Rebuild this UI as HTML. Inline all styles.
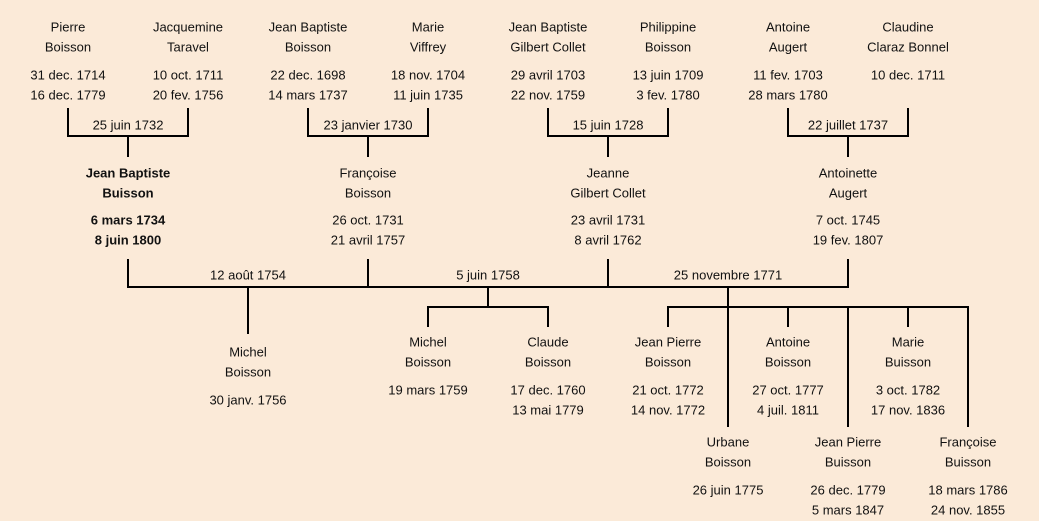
<!DOCTYPE html>
<html><head><meta charset="utf-8"><style>
html,body{margin:0;padding:0;background:#fbead8;}
svg{display:block}
text{font-family:"Liberation Sans","DejaVu Sans",sans-serif;font-size:13px;fill:#111;text-anchor:middle;dominant-baseline:middle}
.b{font-weight:bold}
</style></head><body>
<svg width="1039" height="521" viewBox="0 0 1039 521" xmlns="http://www.w3.org/2000/svg">
<rect width="1039" height="521" fill="#fbead8"/>
<g stroke="#000" stroke-width="2" fill="none">
<path d="M68 108V136H188V108M128 136V157"/>
<path d="M308 108V136H428V108M368 136V157"/>
<path d="M548 108V136H668V108M608 136V157"/>
<path d="M788 108V136H908V108M848 136V157"/>
<path d="M128 259V287H848V259M368 259V287M608 259V287"/>
<path d="M248 287V334"/>
<path d="M488 287V307M428 327V307H548V327"/>
<path d="M728 287V427M668 327V307H968V427M788 307V327M908 307V327M848 307V427"/>
</g>
<text x="68" y="28">Pierre</text><text x="68" y="48">Boisson</text><text x="68" y="76">31 dec. 1714</text><text x="68" y="96">16 dec. 1779</text>
<text x="188" y="28">Jacquemine</text><text x="188" y="48">Taravel</text><text x="188" y="76">10 oct. 1711</text><text x="188" y="96">20 fev. 1756</text>
<text x="308" y="28">Jean Baptiste</text><text x="308" y="48">Boisson</text><text x="308" y="76">22 dec. 1698</text><text x="308" y="96">14 mars 1737</text>
<text x="428" y="28">Marie</text><text x="428" y="48">Viffrey</text><text x="428" y="76">18 nov. 1704</text><text x="428" y="96">11 juin 1735</text>
<text x="548" y="28">Jean Baptiste</text><text x="548" y="48">Gilbert Collet</text><text x="548" y="76">29 avril 1703</text><text x="548" y="96">22 nov. 1759</text>
<text x="668" y="28">Philippine</text><text x="668" y="48">Boisson</text><text x="668" y="76">13 juin 1709</text><text x="668" y="96">3 fev. 1780</text>
<text x="788" y="28">Antoine</text><text x="788" y="48">Augert</text><text x="788" y="76">11 fev. 1703</text><text x="788" y="96">28 mars 1780</text>
<text x="908" y="28">Claudine</text><text x="908" y="48">Claraz Bonnel</text><text x="908" y="76">10 dec. 1711</text>
<text x="128" y="126">25 juin 1732</text>
<text x="368" y="126">23 janvier 1730</text>
<text x="608" y="126">15 juin 1728</text>
<text x="848" y="126">22 juillet 1737</text>
<text class="b" x="128" y="174">Jean Baptiste</text><text class="b" x="128" y="194">Buisson</text><text class="b" x="128" y="221">6 mars 1734</text><text class="b" x="128" y="241">8 juin 1800</text>
<text x="368" y="174">Françoise</text><text x="368" y="194">Boisson</text><text x="368" y="221">26 oct. 1731</text><text x="368" y="241">21 avril 1757</text>
<text x="608" y="174">Jeanne</text><text x="608" y="194">Gilbert Collet</text><text x="608" y="221">23 avril 1731</text><text x="608" y="241">8 avril 1762</text>
<text x="848" y="174">Antoinette</text><text x="848" y="194">Augert</text><text x="848" y="221">7 oct. 1745</text><text x="848" y="241">19 fev. 1807</text>
<text x="248" y="276">12 août 1754</text>
<text x="488" y="276">5 juin 1758</text>
<text x="728" y="276">25 novembre 1771</text>
<text x="248" y="353">Michel</text><text x="248" y="373">Boisson</text><text x="248" y="401">30 janv. 1756</text>
<text x="428" y="343">Michel</text><text x="428" y="363">Boisson</text><text x="428" y="391">19 mars 1759</text>
<text x="548" y="343">Claude</text><text x="548" y="363">Boisson</text><text x="548" y="391">17 dec. 1760</text><text x="548" y="411">13 mai 1779</text>
<text x="668" y="343">Jean Pierre</text><text x="668" y="363">Boisson</text><text x="668" y="391">21 oct. 1772</text><text x="668" y="411">14 nov. 1772</text>
<text x="788" y="343">Antoine</text><text x="788" y="363">Boisson</text><text x="788" y="391">27 oct. 1777</text><text x="788" y="411">4 juil. 1811</text>
<text x="908" y="343">Marie</text><text x="908" y="363">Buisson</text><text x="908" y="391">3 oct. 1782</text><text x="908" y="411">17 nov. 1836</text>
<text x="728" y="443">Urbane</text><text x="728" y="463">Boisson</text><text x="728" y="491">26 juin 1775</text>
<text x="848" y="443">Jean Pierre</text><text x="848" y="463">Buisson</text><text x="848" y="491">26 dec. 1779</text><text x="848" y="511">5 mars 1847</text>
<text x="968" y="443">Françoise</text><text x="968" y="463">Buisson</text><text x="968" y="491">18 mars 1786</text><text x="968" y="511">24 nov. 1855</text>
</svg>
</body></html>
